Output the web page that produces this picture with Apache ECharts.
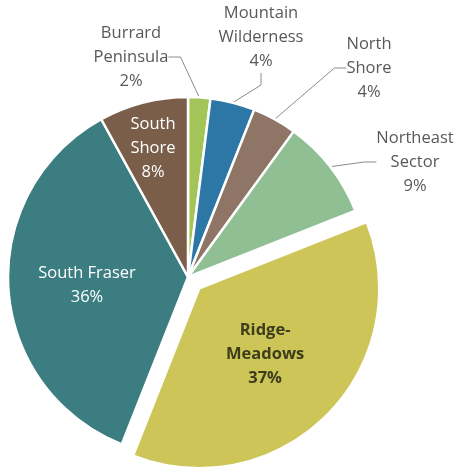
<!DOCTYPE html>
<html>
<head>
<meta charset="utf-8">
<script src="https://cdn.jsdelivr.net/npm/echarts@6/dist/echarts.min.js"></script>
<style>
  html, body { margin: 0; padding: 0; background: #ffffff; }
  #chart { width: 458px; height: 470px; }
</style>
</head>
<body>
<div id="chart"></div>
<script>
// Share of area by region (percent), clockwise from 12 o'clock
const categories = [
  'Burrard\nPeninsula',
  'Mountain\nWilderness',
  'North\nShore',
  'Northeast\nSector',
  'Ridge-\nMeadows',
  'South Fraser',
  'South\nShore'
];
const shares = [2, 4, 4, 9, 37, 36, 8];
const colors = ['#a3c458', '#2c77a6', '#8e7566', '#8fbf93', '#cdc557', '#3b7d80', '#7a5e4a'];

// Which labels sit inside their slice, and the one slice pulled out
const insideLabels = ['Ridge-\nMeadows', 'South Fraser', 'South\nShore'];
const explodedSlice = 'Ridge-\nMeadows';

// Label anchor spots (text block centres)
const labelSpots = {
  'Burrard\nPeninsula': [131, 57],
  'Mountain\nWilderness': [261, 37],
  'North\nShore': [369, 68],
  'Northeast\nSector': [415, 162],
  'Ridge-\nMeadows': [269, 350],
  'South Fraser': [87, 285],
  'South\nShore': [153, 148]
};

const font = '"Open Sans", "Noto Sans", sans-serif';

const data = categories.map((name, i) => {
  const inside = insideLabels.indexOf(name) >= 0;
  const isRidge = name === explodedSlice;
  return {
    name: name,
    value: shares[i],
    selected: isRidge,
    itemStyle: { color: colors[i] },
    label: {
      position: inside ? 'inside' : 'outside',
      color: inside ? (isRidge ? '#3d3d1c' : '#ffffff') : '#595959',
      fontWeight: isRidge ? 'bold' : 'normal'
    },
    labelLine: { show: !inside }
  };
});

const chart = echarts.init(document.getElementById('chart'), null, { renderer: 'canvas' });
chart.setOption({
  backgroundColor: '#ffffff',
  animation: false,
  series: [{
    type: 'pie',
    center: [188, 277],
    radius: 180,
    startAngle: 90,
    clockwise: true,
    selectedMode: 'multiple',
    selectedOffset: 16,
    avoidLabelOverlap: false,
    itemStyle: { borderColor: '#ffffff', borderWidth: 2.5 },
    label: {
      show: true,
      formatter: '{b}\n{c}%',
      fontFamily: font,
      fontSize: 16.5,
      lineHeight: 24,
      align: 'center'
    },
    labelLine: {
      show: true,
      length: 12,
      length2: 12,
      lineStyle: { color: '#8c8c8c', width: 1 }
    },
    emphasis: { disabled: true },
    labelLayout: function (params) {
      const spot = labelSpots[categories[params.dataIndex]];
      if (!spot) return {};
      return {
        x: spot[0],
        y: spot[1],
        align: 'center',
        verticalAlign: 'middle'
      };
    },
    data: data
  }]
});
</script>
</body>
</html>
